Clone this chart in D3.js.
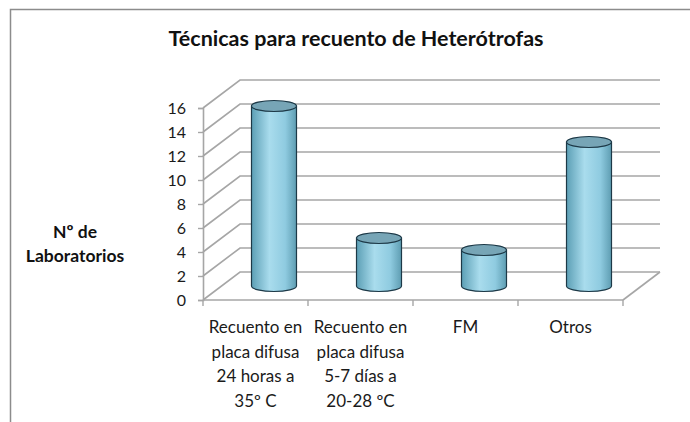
<!DOCTYPE html>
<html>
<head>
<meta charset="utf-8">
<script src="https://cdn.jsdelivr.net/npm/d3@7"></script>
<style>
  body { margin: 0; background: #fff; }
  svg { display: block; font-family: Lato, 'Open Sans', sans-serif; }
</style>
</head>
<body>
<div id="chart"></div>
<script>
// Datos
const categories = ['c1', 'c2', 'c3', 'c4'];
const categoryLabels = [
    ['Recuento en', 'placa difusa', '24 horas a', '35º C'],
    ['Recuento en', 'placa difusa', '5-7 días a', '20-28 ºC'],
    ['FM'],
    ['Otros']
];
const values = [15, 4, 3, 12];
const yTicks = [0, 2, 4, 6, 8, 10, 12, 14, 16];
const title = 'Técnicas para recuento de Heterótrofas';
const yTitle = ['Nº de', 'Laboratorios'];

const W = 690, H = 422;
const svg = d3.select('#chart').append('svg')
    .attr('width', W)
    .attr('height', H);

// Marco
svg.append('path')
    .attr('d', `M10.5,${H} L10.5,9.5 L${W},9.5`)
    .attr('fill', 'none')
    .attr('stroke', '#8c8c8c')
    .attr('stroke-width', 1.5);

// Escalas
const x = d3.scaleBand()
    .domain(categories)
    .range([203, 623]);
const xEdge = d3.scaleLinear()
    .domain([0, categories.length])
    .range(x.range());
const y = d3.scaleLinear()
    .domain([0, 16])
    .range([300, 108]);

// Profundidad 3D
const depth = {dx: 37, dy: -28};
const grid = '#a6a6a6';

// Paredes y grade
yTicks.forEach(t => {
    svg.append('path')
        .attr('d', `M${x.range()[0]},${y(t)} l${depth.dx},${depth.dy} L${x.range()[1] + depth.dx},${y(t) + depth.dy}`)
        .attr('fill', 'none')
        .attr('stroke', grid)
        .attr('stroke-width', 1.6);
});

// Piso
svg.append('path')
    .attr('d', `M${x.range()[1]},${y(0)} l${depth.dx},${depth.dy}`)
    .attr('stroke', grid)
    .attr('stroke-width', 1.6);

// Eje Y
const yAxis = svg.append('g')
    .attr('transform', `translate(${x.range()[0]},0)`)
    .call(d3.axisLeft(y).tickValues(yTicks).tickSize(5).tickPadding(12))
    .attr('font-family', 'Lato, sans-serif');
yAxis.select('.domain').attr('stroke', grid).attr('stroke-width', 1.6);
yAxis.selectAll('.tick line').attr('stroke', grid).attr('stroke-width', 1.4);
yAxis.selectAll('.tick text')
    .attr('fill', '#1a1a1a')
    .style('font-size', '16px');

// Eje X
svg.append('line')
    .attr('x1', x.range()[0]).attr('x2', x.range()[1])
    .attr('y1', y(0)).attr('y2', y(0))
    .attr('stroke', grid)
    .attr('stroke-width', 1.6);
d3.range(categories.length + 1).forEach(i => {
    svg.append('line')
        .attr('x1', xEdge(i)).attr('x2', xEdge(i))
        .attr('y1', y(0)).attr('y2', y(0) + 6)
        .attr('stroke', grid)
        .attr('stroke-width', 1.4);
});

// Gradiente cilindro
const defs = svg.append('defs');
const grad = defs.append('linearGradient')
    .attr('id', 'cyl')
    .attr('x1', '0%').attr('x2', '100%')
    .attr('y1', '0%').attr('y2', '0%');
grad.append('stop').attr('offset', '0%').attr('stop-color', '#5c9fb5');
grad.append('stop').attr('offset', '40%').attr('stop-color', '#a9dced');
grad.append('stop').attr('offset', '75%').attr('stop-color', '#8fcbe0');
grad.append('stop').attr('offset', '100%').attr('stop-color', '#5e9db2');

// Cilindros
const rx = 22.5, ry = 5.5;
const bars = svg.selectAll('.bar')
    .data(categories.map((c, i) => ({c, v: values[i]})))
    .enter().append('g')
    .attr('class', 'bar');

bars.append('path')
    .attr('d', d => {
        const cx = x(d.c) + x.bandwidth() / 2 + depth.dx / 2;
        const yb = y(0) + depth.dy / 2;
        const yt = y(d.v) + depth.dy / 2;
        return `M${cx - rx},${yt} L${cx - rx},${yb} A${rx},${ry} 0 0 0 ${cx + rx},${yb} L${cx + rx},${yt} Z`;
    })
    .attr('fill', 'url(#cyl)')
    .attr('stroke', '#1d3947')
    .attr('stroke-width', 1.2);

bars.append('ellipse')
    .attr('cx', d => x(d.c) + x.bandwidth() / 2 + depth.dx / 2)
    .attr('cy', d => y(d.v) + depth.dy / 2)
    .attr('rx', rx)
    .attr('ry', ry)
    .attr('fill', '#77a5b6')
    .attr('stroke', '#1d3947')
    .attr('stroke-width', 1.2);

// Etiquetas de categoría
categories.forEach((c, i) => {
    const t = svg.append('text')
        .attr('x', x(c) + x.bandwidth() / 2)
        .attr('y', 333)
        .attr('text-anchor', 'middle')
        .attr('fill', '#1a1a1a')
        .style('font-size', '17px');
    categoryLabels[i].forEach((line, j) => {
        t.append('tspan')
            .attr('x', x(c) + x.bandwidth() / 2)
            .attr('dy', j === 0 ? 0 : 24.5)
            .text(line);
    });
});

// Título
svg.append('text')
    .attr('x', 356)
    .attr('y', 46)
    .attr('text-anchor', 'middle')
    .attr('fill', '#111')
    .style('font-size', '21.5px')
    .style('font-weight', 'bold')
    .text(title);

// Título eje Y
const yt = svg.append('text')
    .attr('x', 75)
    .attr('y', 238)
    .attr('text-anchor', 'middle')
    .attr('fill', '#111')
    .style('font-size', '17.5px')
    .style('font-weight', 'bold');
yTitle.forEach((line, j) => {
    yt.append('tspan')
        .attr('x', 75)
        .attr('dy', j === 0 ? 0 : 24)
        .text(line);
});
</script>
</body>
</html>
